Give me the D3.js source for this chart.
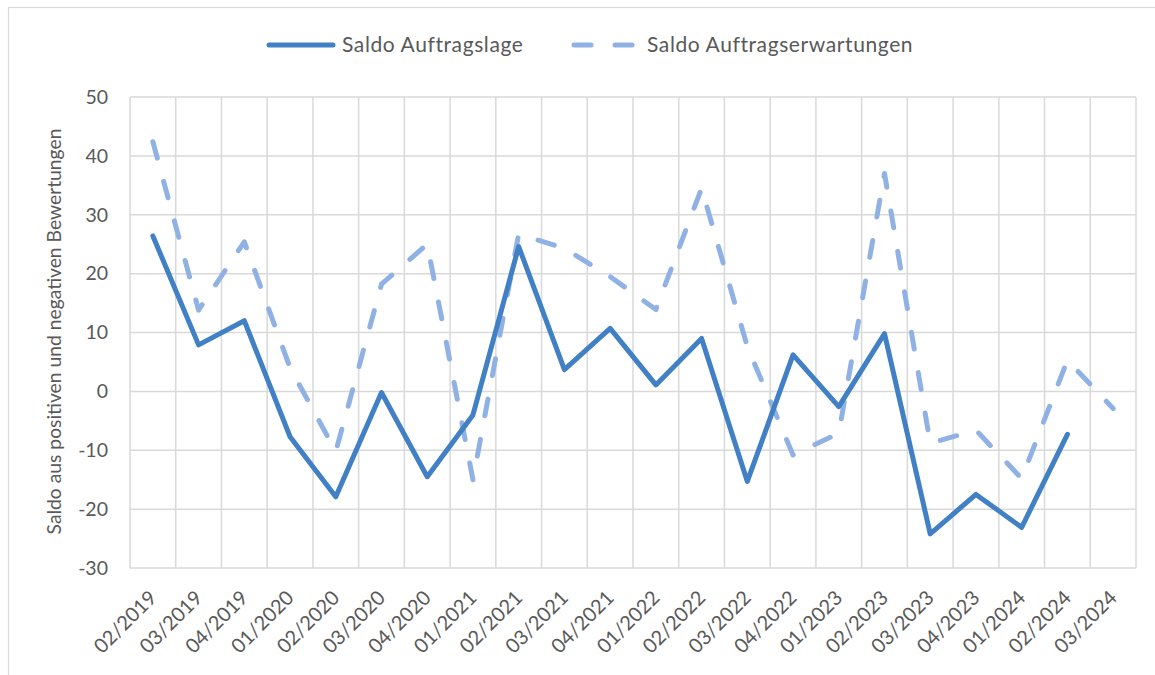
<!DOCTYPE html>
<html lang="de">
<head>
<meta charset="UTF-8">
<title>Saldo Auftragslage</title>
<script src="https://cdn.jsdelivr.net/npm/d3@7"></script>
<style>
  body { margin: 0; background: #fff; }
  text { font-family: Lato, "Open Sans", sans-serif; fill: #595959; }
</style>
</head>
<body>
<script>
// quarters on the x axis
const quarters = ["02/2019","03/2019","04/2019","01/2020","02/2020","03/2020","04/2020",
                  "01/2021","02/2021","03/2021","04/2021","01/2022","02/2022","03/2022",
                  "04/2022","01/2023","02/2023","03/2023","04/2023","01/2024","02/2024","03/2024"];
// Saldo Auftragslage (last quarter has no value)
const auftragslage = [26.4, 7.9, 12.0, -7.7, -17.9, -0.2, -14.5, -4.0, 24.6, 3.7, 10.7,
                      1.1, 9.0, -15.3, 6.2, -2.6, 9.8, -24.2, -17.5, -23.1, -7.3, null];
// Saldo Auftragserwartungen
const erwartungen = [42.4, 13.8, 25.4, 4.0, -10.2, 18.2, 25.0, -15.0, 26.7, 24.3, 19.5,
                     13.9, 34.5, 7.6, -10.8, -7.1, 37.0, -8.8, -6.6, -14.8, 5.3, -2.9];
const yTicks = [-30, -20, -10, 0, 10, 20, 30, 40, 50];
const seriesNames = ["Saldo Auftragslage", "Saldo Auftragserwartungen"];

const W = 1155, H = 675;
const plotL = 130, plotR = 1136, plotT = 97, plotB = 568;
const colSolid = "#4180c5", colDash = "#8fb1e3";

let svg = d3.select('body').append('svg')
    .attr('width', W)
    .attr('height', H);

// chart border
svg.append('rect')
    .attr('x', 8.5).attr('y', 7.5)
    .attr('width', 1160).attr('height', 680)
    .attr('fill', 'none')
    .attr('stroke', '#d9d9d9')
    .attr('stroke-width', 1.2);

let x = d3.scaleBand().domain(quarters).range([plotL, plotR]);
let y = d3.scaleLinear().domain([-30, 50]).range([plotB, plotT]);

// horizontal grid
svg.append('g').selectAll('line')
    .data(yTicks)
    .enter()
    .append('line')
    .attr('x1', plotL).attr('x2', plotR)
    .attr('y1', d => y(d)).attr('y2', d => y(d))
    .attr('stroke', '#d9d9d9')
    .attr('stroke-width', 1.5);

// vertical grid at category boundaries
let bounds = quarters.map(d => x(d)).concat([plotR]);
svg.append('g').selectAll('line')
    .data(bounds)
    .enter()
    .append('line')
    .attr('x1', d => d).attr('x2', d => d)
    .attr('y1', plotT).attr('y2', plotB)
    .attr('stroke', '#d9d9d9')
    .attr('stroke-width', 1.5);

// y axis labels (plain hyphen for negatives)
let yAxis = svg.append('g')
    .attr('transform', `translate(${plotL - 22},0)`)
    .call(d3.axisLeft(y).tickValues(yTicks).tickSize(0).tickPadding(0)
        .tickFormat(d => String(d)));
yAxis.select('.domain').remove();
yAxis.selectAll('text')
    .style('font-size', '19.5px')
    .style('font-family', 'Lato, sans-serif')
    .attr('fill', '#595959');

// x axis labels, rotated
let xAxis = svg.append('g')
    .attr('transform', `translate(0,${plotB})`)
    .call(d3.axisBottom(x).tickSize(0).tickPadding(0));
xAxis.select('.domain').remove();
xAxis.selectAll('text')
    .style('font-size', '20px')
    .style('font-family', 'Lato, sans-serif')
    .attr('fill', '#595959')
    .attr('text-anchor', 'end')
    .attr('dy', 0)
    .attr('y', 0)
    .attr('transform', 'translate(5,31) rotate(-45)');

// y axis title
svg.append('text')
    .attr('transform', `translate(61,${(plotT + plotB) / 2 - 1}) rotate(-90)`)
    .attr('text-anchor', 'middle')
    .attr('fill', '#595959')
    .style('font-size', '19.3px')
    .text('Saldo aus positiven und negativen Bewertungen');

let cx = d => x(d) + x.bandwidth() / 2;

let line = d3.line()
    .defined(d => d.v !== null)
    .x(d => cx(d.q))
    .y(d => y(d.v));

svg.append('path')
    .datum(quarters.map((q, i) => ({q: q, v: erwartungen[i]})))
    .attr('d', line)
    .attr('fill', 'none')
    .attr('stroke', colDash)
    .attr('stroke-width', 5)
    .attr('stroke-linecap', 'round')
    .attr('stroke-linejoin', 'round')
    .attr('stroke-dasharray', '17,24');

svg.append('path')
    .datum(quarters.map((q, i) => ({q: q, v: auftragslage[i]})))
    .attr('d', line)
    .attr('fill', 'none')
    .attr('stroke', colSolid)
    .attr('stroke-width', 5)
    .attr('stroke-linecap', 'round')
    .attr('stroke-linejoin', 'round');

// legend
let legend = [
    {name: seriesNames[0], x: 267, color: colSolid, dash: null},
    {name: seriesNames[1], x: 572, color: colDash, dash: '17,24'}
];
let lg = svg.append('g').selectAll('g')
    .data(legend)
    .enter()
    .append('g')
    .attr('transform', d => `translate(${d.x},45)`);
lg.append('line')
    .attr('x1', 2).attr('x2', 66)
    .attr('stroke', d => d.color)
    .attr('stroke-width', 5)
    .attr('stroke-linecap', 'round')
    .attr('stroke-dasharray', d => d.dash);
lg.append('text')
    .attr('x', 75)
    .attr('dy', '0.35em')
    .style('font-size', '21px')
    .style('letter-spacing', '0.6px')
    .text(d => d.name);
</script>
</body>
</html>
